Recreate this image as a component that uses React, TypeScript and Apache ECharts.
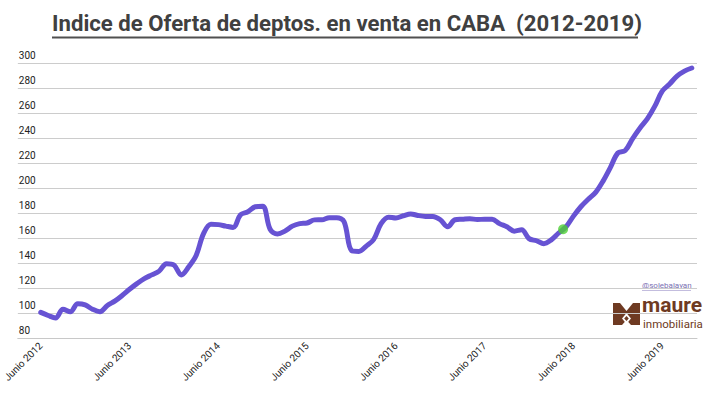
import React, { useEffect, useRef } from "react";
import * as echarts from "echarts";

// Monthly index values, June 2012 (index 0) onward
const VALUES: number[] = [
  100.5, 98, 96, 103, 101, 107.4, 106.5, 103, 101, 106, 109.5, 114,
  119, 123.5, 127.5, 130.5, 133.5, 139.5, 138.4, 130.5, 137, 146, 163.5, 171,
  170.7, 169.5, 168.5, 178.6, 181, 185, 185.5, 167, 163.2, 165.5, 169.5, 171.5,
  172, 174.5, 174.6, 176.3, 176.3, 173, 150, 149.3, 153.5, 158.8, 171.5, 176.7,
  176, 177.8, 179.3, 178, 177.3, 177.3, 174.6, 169, 174.6, 175, 175.4, 174.8,
  175, 175, 171.5, 169, 165.5, 166.6, 159.5, 157.8, 155.5, 158.5, 164, 169,
  177.5, 185, 191, 196.5, 205.5, 216.5, 228, 230, 239.5, 248, 255.5, 265.5,
  277.5, 283.2, 289.5, 293.5, 296,
];

const TICK_MONTHS: number[] = [0, 12, 24, 36, 48, 60, 72, 84];
const TICK_LABELS: string[] = [
  "Junio 2012", "Junio 2013", "Junio 2014", "Junio 2015",
  "Junio 2016", "Junio 2017", "Junio 2018", "Junio 2019",
];
const MARKER: [number, number][] = [[70.6, 167]];

const TITLE = "Indice de Oferta de deptos. en venta en CABA  (2012-2019)";
const BROWN = "#6e3a22";

export default function App() {
  const ref = useRef<HTMLDivElement>(null);
  useEffect(() => {
    if (!ref.current) return;
    const chart = echarts.init(ref.current, null, { renderer: "svg" });
    chart.setOption({
      animation: false,
      backgroundColor: "#ffffff",
      grid: { left: 17, right: 19, top: 63, bottom: 56, containLabel: false },
      xAxis: {
        type: "value",
        min: -3.1,
        max: 88.7,
        splitLine: { show: false },
        axisTick: { show: false },
        axisLine: { show: true, lineStyle: { color: "#c8c8c8", width: 1 } },
        axisLabel: {
          customValues: TICK_MONTHS,
          formatter: (v: number) => TICK_LABELS[TICK_MONTHS.indexOf(Math.round(v))] ?? "",
          rotate: 45,
          margin: 6,
          fontFamily: "Roboto",
          fontSize: 10,
          color: "#222",
        },
      },
      yAxis: {
        type: "value",
        min: 80,
        max: 300,
        interval: 20,
        axisLine: { show: false },
        axisTick: { show: false },
        splitLine: { show: true, lineStyle: { color: "#cccccc", width: 1 } },
        axisLabel: {
          inside: true,
          margin: 1,
          verticalAlign: "bottom",
          align: "left",
          padding: [0, 0, 3, 0],
          fontFamily: "Roboto",
          fontSize: 10,
          color: "#222",
        },
      },
      series: [
        {
          type: "line",
          data: VALUES.map((v, i) => [i, v]),
          smooth: 0.35,
          showSymbol: false,
          symbol: "none",
          lineStyle: { color: "#6753d3", width: 5, cap: "round", join: "round" },
          z: 2,
        },
        {
          type: "scatter",
          data: MARKER,
          symbolSize: 10,
          itemStyle: { color: "#4fcf35" },
          z: 3,
        },
      ],
      graphic: [
        {
          type: "text",
          x: 52,
          y: 11,
          scaleX: 0.985,
          style: {
            text: TITLE,
            font: "bold 22.5px Roboto",
            fill: "#404040",
          },
        },
        {
          type: "line",
          shape: { x1: 52, y1: 37.5, x2: 638, y2: 37.5 },
          style: { stroke: "#505050", lineWidth: 2 },
        },
        {
          type: "text",
          x: 642,
          y: 281,
          style: { text: "@solebalayan", font: "8px Roboto", fill: "#7a6fb3" },
        },
        {
          type: "line",
          shape: { x1: 642, y1: 290.5, x2: 691, y2: 290.5 },
          style: { stroke: "#9a90c8", lineWidth: 0.6 },
        },
        {
          type: "polygon",
          shape: {
            points: [
              [613, 303], [620, 303], [626.5, 311], [633, 303], [640, 303],
              [640, 325], [631, 325], [626.5, 320], [622, 325], [613, 325],
            ],
          },
          style: { fill: BROWN },
        },
        {
          type: "polygon",
          shape: { points: [[626.5, 313], [631, 318.5], [626.5, 324], [622, 318.5]] },
          style: { fill: "#ffffff" },
        },
        {
          type: "polygon",
          shape: { points: [[626.5, 316], [628.8, 318.5], [626.5, 321], [624.2, 318.5]] },
          style: { fill: BROWN },
        },
        {
          type: "text",
          x: 642,
          y: 295,
          style: { text: "maure", font: "bold 21px Roboto", fill: BROWN, lineHeight: 20 },
        },
        {
          type: "text",
          x: 643,
          y: 318,
          style: { text: "inmobiliaria", font: "11.5px Roboto", fill: BROWN, lineHeight: 11 },
        },
      ],
    });
    return () => chart.dispose();
  }, []);
  return (
    <div
      ref={ref}
      style={{ position: "absolute", left: 0, top: 0, width: 716, height: 394 }}
    />
  );
}
